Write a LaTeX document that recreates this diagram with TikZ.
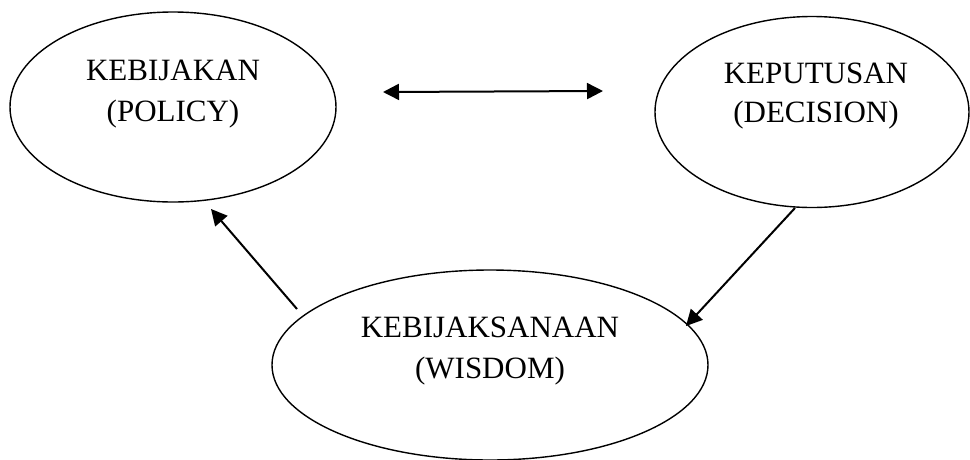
\documentclass[tikz,border=0pt]{standalone}
\usepackage{fontspec}
\setmainfont{Liberation Serif}
\usetikzlibrary{shapes.geometric,arrows.meta}
\tikzset{
  oval/.style={draw, ellipse, line width=1.4pt, inner sep=0pt},
  lbl/.style={anchor=base, inner sep=0pt, font=\fontsize{31}{40}\selectfont},
  conn/.style={line width=2pt, -{Triangle[length=16pt,width=16pt]}},
  dconn/.style={line width=2pt, {Triangle[length=16pt,width=16pt]}-{Triangle[length=16pt,width=16pt]}}
}
\begin{document}
\begin{tikzpicture}[x=1pt,y=-1pt]
\useasboundingbox (0,0) rectangle (970,459);
% ellipses
\node[oval, minimum width=326pt, minimum height=190pt] (pol) at (173,107) {};
\node[oval, minimum width=314pt, minimum height=191pt] (dec) at (812,112) {};
\node[oval, minimum width=436pt, minimum height=190pt] (wis) at (490,365) {};
% texts
\node[lbl] (pol1) at (173,80) {KEBIJAKAN};
\node[lbl] (pol2) at (173,121) {(POLICY)};
\node[lbl] (dec1) at (816,83) {KEPUTUSAN};
\node[lbl] (dec2) at (816,122) {(DECISION)};
\node[lbl] (wis1) at (490,337) {KEBIJAKSANAAN};
\node[lbl] (wis2) at (490,378) {(WISDOM)};
% connector end points
\coordinate (dl) at (383,92);
\coordinate (dr) at (603,91);
\coordinate (wt) at (297,309);
\coordinate (ph) at (211,209);
\coordinate (dt) at (795,208);
\coordinate (wh) at (686,326);
\draw[dconn] (dl) -- (dr);
\draw[conn] (wt) -- (ph);
\draw[conn] (dt) -- (wh);
\end{tikzpicture}
\end{document}
